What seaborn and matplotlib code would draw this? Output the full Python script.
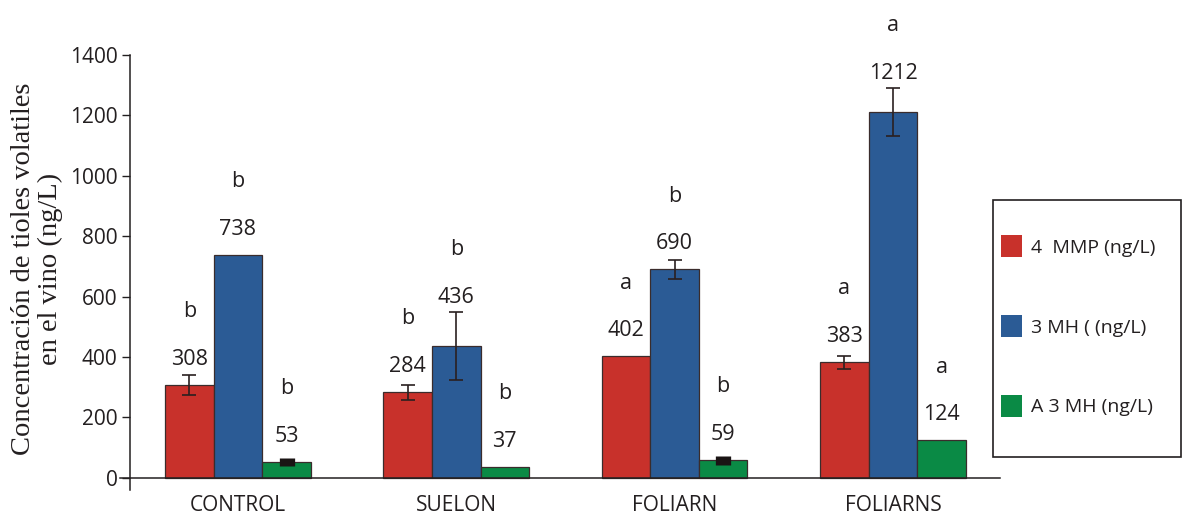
import matplotlib
matplotlib.use("Agg")
import matplotlib.pyplot as plt
from matplotlib.patches import Patch, Rectangle
import numpy as np
import pandas as pd
import seaborn as sns

# --- data -------------------------------------------------------------
tratamientos = ["CONTROL", "SUELON", "FOLIARN", "FOLIARNS"]
compuestos = ["4  MMP (ng/L)", "3 MH ( (ng/L)", "A 3 MH (ng/L)"]

mmp = [308, 284, 402, 383]
mh = [738, 436, 690, 1212]
amh = [53, 37, 59, 124]

# standard errors (0 = not shown)
mmp_err = [34, 25, 0, 21]
mh_err = [0, 113, 33, 80]
amh_err = [12, 0, 15, 0]

# significance letters
mmp_let = ["b", "b", "a", "a"]
mh_let = ["b", "b", "b", "a"]
amh_let = ["b", "b", "b", "a"]

yticks = [0, 200, 400, 600, 800, 1000, 1200, 1400]
ylabel = "Concentración de tioles volatiles\nen el vino (ng/L)"

colores = ["#c8312b", "#2b5b95", "#0a8a45"]
ink = "#231f20"

# --- long-form table --------------------------------------------------
valores = [mmp, mh, amh]
errores = [mmp_err, mh_err, amh_err]
letras = [mmp_let, mh_let, amh_let]
df = pd.DataFrame({
    "tratamiento": [t for _ in compuestos for t in tratamientos],
    "compuesto": [c for c in compuestos for _ in tratamientos],
    "valor": [v for serie in valores for v in serie],
})

sns.set_theme(style="white")
plt.rcParams["font.family"] = ["Open Sans", "DejaVu Sans"]

fig = plt.figure(figsize=(11.89, 5.20), dpi=100)
ax = fig.add_axes([0.1009, 0.0577, 0.7401, 0.8365])

sns.barplot(data=df, x="tratamiento", y="valor", hue="compuesto",
            order=tratamientos, hue_order=compuestos, palette=colores,
            saturation=1, width=0.667, edgecolor="#3a2c2c", linewidth=0.9,
            errorbar=None, legend=False, ax=ax)

ax.set_xlim(-0.5405, 3.49)
ax.set_ylim(-40, 1400)
ax.set_yticks(yticks)
ax.set_xlabel("")
ax.set_ylabel("")

for side in ("top", "right"):
    ax.spines[side].set_visible(False)
ax.spines["bottom"].set_position(("data", 0))
ax.spines["left"].set_position(("data", -0.495))
for side in ("bottom", "left"):
    ax.spines[side].set_color(ink)
    ax.spines[side].set_linewidth(1.1)

ax.tick_params(axis="y", direction="out", length=6, width=1.0, color=ink,
               pad=3, labelsize=15, labelcolor=ink, left=True)
ax.tick_params(axis="x", length=0, pad=12, labelsize=15, labelcolor=ink)
ax.grid(False)

# --- error bars, values and letters --------------------------------------
for cont, serie, errs, lets in zip(ax.containers, valores, errores, letras):
    for bar, v, e, let in zip(cont.patches, serie, errs, lets):
        xc = bar.get_x() + bar.get_width() / 2
        if e > 0:
            if e < 20:
                ax.errorbar(xc, v, yerr=e, fmt="none", ecolor="#1a1414",
                            elinewidth=11, capsize=0, zorder=5)
            else:
                ax.errorbar(xc, v, yerr=e, fmt="none", ecolor="#2a2020",
                            elinewidth=1.2, capsize=5, capthick=1.2, zorder=5)
        y_val = max(v + 85, v + e + 48)
        ax.text(xc, y_val, f"{v}", ha="center", va="center",
                fontsize=15.5, color=ink, clip_on=False)
        ax.text(xc, y_val + 158, let, ha="center", va="center",
                fontsize=15.5, color=ink, clip_on=False)

# --- y label ------------------------------------------------------------
fig.text(0.0315, 0.483, ylabel, rotation=90, ha="center", va="center",
         multialignment="center", fontsize=20.5, color=ink,
         family=["Liberation Serif", "DejaVu Serif"], linespacing=1.1)

# --- legend -------------------------------------------------------------
handles = [Patch(facecolor=c, edgecolor="none") for c in colores]
fig.legend(handles, compuestos, loc="center left",
           bbox_to_anchor=(0.842, 0.373), frameon=False, fontsize=14,
           handlelength=1.07, handleheight=1.4, handletextpad=0.45,
           labelspacing=2.95, borderpad=0, borderaxespad=0,
           labelcolor=ink)
fig.add_artist(Rectangle((0.835, 0.121), 0.158, 0.494,
                         transform=fig.transFigure, facecolor="none",
                         edgecolor=ink, linewidth=1.2))

fig.savefig("out.png", dpi=100)
